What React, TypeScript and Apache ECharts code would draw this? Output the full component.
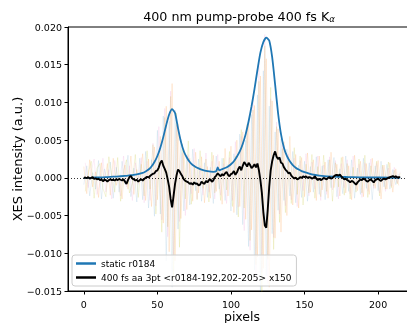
import React, { useEffect, useRef } from "react";
import * as echarts from "echarts";

// values in units of 1e-3 (a.u.)
const staticX = [0,4,8,12,16,20,24,28,32,36,40,42,44,46,48,50,52,54,56,58,60,62,64,66,68,70,72,74,76,78,80,84,88,90,91,92,94,96,98,100,102,104,106,108,110,112,114,116,118,120,122,124,126,128,130,132,134,136,138,140,142,144,146,148,150,155,160,170,180,190,200,215];
const staticY = [0,0,0.05,0.05,0.1,0.15,0.2,0.25,0.35,0.45,0.65,0.85,1.1,1.5,2.1,2.9,4.0,5.4,7.0,8.4,9.1,8.6,6.6,4.8,3.5,2.7,2.1,1.7,1.45,1.25,1.1,0.9,0.8,0.9,1.4,1.0,1.15,1.3,1.5,1.8,2.2,2.8,3.5,4.5,5.8,7.5,9.5,11.8,14.3,16.6,18.0,18.6,18.2,16.0,12.4,8.6,5.8,4.0,2.9,2.2,1.7,1.35,1.1,0.9,0.75,0.45,0.3,0.15,0.1,0.05,0.05,0.0];

// difference signal, pixel 0..215
const diffY = [
0.0,0.05,-0.05,0.1,-0.1,0.0,0.1,-0.15,-0.05,-0.2,
-0.1,-0.3,-0.2,-0.45,-0.25,-0.3,-0.5,-0.3,-0.2,-0.3,
-0.25,-0.35,-0.2,-0.3,-0.15,-0.25,-0.35,-0.2,-0.5,-0.8,
-0.3,0.1,0.25,-0.1,-0.2,-0.35,-0.25,-0.5,-0.3,-0.2,
-0.35,-0.15,0.0,0.15,0.05,0.25,0.4,0.55,0.6,0.9,
1.0,1.4,2.0,2.3,1.6,1.2,0.7,-0.2,-1.2,-2.8,
-3.9,-2.4,-0.8,0.3,1.1,0.9,0.5,0.2,-0.2,-0.4,
-0.5,-0.6,-0.8,-0.7,-0.9,-0.6,-0.8,-0.75,-1.0,-0.9,
-0.5,-0.7,-0.8,-0.4,-0.6,-0.3,-0.2,-0.5,-0.35,0.1,
0.3,0.6,0.4,0.2,0.5,0.3,0.6,0.8,0.4,0.2,
0.5,0.6,0.9,0.4,0.7,1.2,1.5,1.0,1.6,2.1,
1.8,1.5,2.0,1.7,1.3,1.5,1.8,1.4,1.9,1.0,
-0.3,-2.0,-4.5,-6.3,-6.6,-4.2,-1.2,1.0,2.2,3.0,
3.5,2.8,2.5,2.7,2.0,1.9,1.4,1.1,0.9,0.6,
0.7,0.3,0.1,-0.1,0.05,-0.2,-0.1,0.1,0.0,0.2,
0.1,0.2,0.0,0.1,0.05,-0.1,0.0,0.2,-0.1,-0.3,
-0.1,-0.3,-0.2,0.0,-0.1,-0.2,0.0,0.1,-0.1,0.0,
0.2,0.35,0.4,0.3,0.45,0.2,0.0,-0.2,-0.1,-0.3,
-0.4,-0.6,-0.4,-0.5,-0.7,-0.9,-0.6,-0.4,-0.2,-0.3,
-0.1,-0.2,-0.4,-0.5,-0.3,-0.2,-0.4,-0.6,-0.3,-0.2,
-0.1,-0.3,-0.4,-0.2,-0.1,-0.2,-0.1,0.0,0.1,0.15,
0.25,0.1,0.2,0.05,0.1,0.1
];

// individual noisy runs (even pixels / odd pixels)
const runA = [1.5,-2.1,2.4,-1.2,0.8,-2.6,2.0,-0.5,1.9,-2.3,2.6,-1.0,0.4,-2.8,1.7,-1.5,2.9,-2.2,1.1,-0.6,3.2,-3.0,2.5,-3.8,4.1,-2.9,5.5,-6.0,9.5,-9.8,12.5,-11.0,7.2,-5.4,3.8,-4.2,2.6,-3.1,3.4,-2.0,2.8,-3.3,1.5,-2.7,3.0,-1.8,2.2,-3.5,3.9,-2.4,4.2,-4.6,5.0,-3.8,6.1,-5.5,7.8,-6.9,9.6,-10.5,13.5,-12.0,15.8,-14.5,10.2,-8.0,6.5,-7.2,4.8,-5.0,5.5,-3.6,3.1,-4.0,2.7,-2.5,3.3,-1.9,2.4,-3.0,2.9,-1.6,2.1,-2.7,3.4,-1.3,1.8,-2.4,2.8,-2.0,1.6,-2.9,3.0,-1.7,2.2,-2.5,1.9,-2.2,2.6,-1.4,2.3,-2.8,1.7,-1.5,2.0,-1.9,1.2,-1.0];
const runB = [-1.8,0.6,2.2,-2.7,1.3,1.9,-1.4,-2.5,2.8,0.3,-1.9,2.7,-3.1,1.0,2.4,-2.0,-0.7,3.1,-2.6,1.8,-2.4,3.6,-1.5,4.4,-4.8,3.0,-7.2,8.0,-6.5,10.8,-13.5,8.6,-9.2,4.5,-2.8,4.9,-3.5,1.7,-2.9,3.6,-1.4,2.5,-3.2,3.4,-2.0,1.1,-3.0,2.6,-1.6,3.5,-3.8,2.9,-5.2,6.4,-4.0,7.1,-8.3,9.0,-11.5,12.8,-16.0,17.5,-10.8,12.0,-9.5,6.8,-5.9,3.9,-4.6,2.8,-3.4,4.0,-2.2,2.9,-3.6,1.8,-2.0,3.1,-2.7,1.5,-2.5,3.0,-1.8,2.4,-3.1,2.0,-1.2,2.7,-2.3,1.9,-2.8,1.4,-1.9,2.5,-2.0,3.0,-2.6,1.6,-1.1,2.2,-2.4,1.7,-1.5,2.1,-1.3,1.0,-0.8,0.6];
const runC = [-0.9,1.6,-2.4,0.7,-1.5,2.3,-2.8,1.2,-0.4,2.1,-2.7,1.4,-1.9,2.2,-0.8,3.0,-2.5,1.3,-3.2,2.6,-2.9,3.5,-4.0,2.4,-5.1,6.3,-4.8,8.2,-11.0,7.5,-14.5,9.0,-6.8,5.1,-4.4,2.9,-3.6,3.8,-1.7,2.5,-3.1,2.0,-2.6,1.4,-3.4,2.9,-1.5,2.6,-3.0,1.8,-4.4,3.2,-4.9,5.8,-6.2,5.0,-9.1,8.4,-12.2,11.0,-15.0,14.2,-13.0,9.5,-7.4,6.1,-4.3,5.2,-3.0,3.8,-2.4,3.5,-3.3,1.7,-2.6,2.2,-3.1,1.5,-1.9,2.8,-2.2,1.6,-2.9,2.4,-1.3,2.7,-2.5,1.2,-2.1,2.9,-1.8,2.4,-2.7,1.3,-2.2,2.6,-1.4,2.0,-2.9,1.6,-1.7,2.2,-1.2,1.8,-1.5,1.1,-0.9,0.5];
const runD = [2.0,-1.3,0.9,2.5,-2.2,-0.6,2.6,-1.9,1.1,-2.8,2.3,0.5,-2.4,2.9,-1.2,1.6,-3.0,2.0,-0.9,2.7,-3.3,2.2,-3.0,4.6,-3.7,6.8,-5.6,9.2,-7.8,11.5,-10.2,7.0,-5.8,3.3,-5.0,3.1,-2.1,3.9,-2.8,1.6,-2.3,3.3,-1.9,2.2,-2.8,3.1,-2.3,1.9,-3.4,2.7,-3.0,4.8,-3.9,5.5,-7.0,6.3,-9.6,10.8,-13.8,15.5,-12.5,19.0,-14.0,10.5,-7.9,7.4,-4.8,4.4,-3.7,3.2,-2.9,2.6,-3.8,2.3,-1.7,3.2,-2.4,2.1,-1.5,2.9,-3.0,1.7,-2.2,2.8,-1.6,2.3,-2.8,1.9,-1.3,2.4,-2.1,2.9,-1.5,1.8,-2.6,2.0,-1.8,2.5,-1.4,1.9,-2.0,1.5,-1.8,1.3,-1.1,1.4,-0.7,0.8];

const xTicks = [0, 50, 100, 150, 200];
const seriesNames = ["static r0184", "400 fs aa 3pt <r0184-192,202-205> x150"];

const FONT = "DejaVu Sans";

export default function App() {
  const ref = useRef<HTMLDivElement>(null);
  useEffect(() => {
    if (!ref.current) return;
    const chart = echarts.init(ref.current, null, { renderer: "svg" });
    const runs = [
      { d: runA, off: 0, c: "rgba(255,127,14,0.14)" },
      { d: runB, off: 1, c: "rgba(188,189,34,0.17)" },
      { d: runC, off: 0, c: "rgba(31,119,180,0.10)" },
      { d: runD, off: 1, c: "rgba(227,119,194,0.12)" },
    ];
    const noiseSeries = runs.map((r, k) => ({
      type: "line",
      name: "run" + k,
      data: r.d.map((v, i) => [i * 2 + r.off, v]),
      showSymbol: false,
      silent: true,
      lineStyle: { color: r.c, width: 1 },
      z: 1,
    }));
    chart.setOption({
      animation: false,
      title: {
        text: "400 nm pump-probe 400 fs K{sub|α}",
        left: 234,
        textAlign: "center",
        top: 4,
        textStyle: {
          fontFamily: FONT,
          fontSize: 12.7,
          fontWeight: "normal",
          color: "#000",
          rich: {
            sub: { fontFamily: FONT, fontSize: 8.5, fontStyle: "italic", color: "#000", padding: [5, 0, 0, 0] },
          },
        },
      },
      grid: { left: 68, top: 27, right: 0, bottom: 32, outerBoundsMode: "none", containLabel: false, show: true, borderColor: "#000", borderWidth: 1, backgroundColor: "transparent" },
      legend: {
        data: seriesNames,
        orient: "vertical",
        left: 72,
        top: 255,
        padding: [4, 5, 4, 4],
        itemGap: 5,
        itemWidth: 20,
        itemHeight: 2.5,
        icon: "rect",
        backgroundColor: "rgba(255,255,255,0.8)",
        borderColor: "#ccc",
        borderWidth: 1,
        borderRadius: 3,
        textStyle: { fontFamily: FONT, fontSize: 9, color: "#000" },
        selectedMode: false,
      },
      xAxis: {
        type: "value",
        min: -10.75,
        max: 225.75,
        name: "pixels",
        nameLocation: "middle",
        nameGap: 25,
        nameMoveOverlap: false,
        nameTextStyle: { fontFamily: FONT, fontSize: 12.5, color: "#000", verticalAlign: "middle", lineHeight: 13 },
        axisLine: { show: true, onZero: false, lineStyle: { color: "#000", width: 1 } },
        axisTick: { show: true, inside: false, length: 3.5, customValues: xTicks, lineStyle: { color: "#000" } },
        axisLabel: { customValues: xTicks, fontFamily: FONT, fontSize: 9.5, color: "#000", margin: 8 },
        splitLine: { show: false },
      },
      yAxis: {
        type: "value",
        min: -15,
        max: 20,
        interval: 5,
        name: "XES intensity (a.u.)",
        nameLocation: "middle",
        nameGap: 44,
        nameMoveOverlap: false,
        nameTextStyle: { fontFamily: FONT, fontSize: 13, color: "#000" },
        axisLine: { show: true, onZero: false, lineStyle: { color: "#000", width: 1 } },
        axisTick: { show: true, inside: false, length: 3.5, lineStyle: { color: "#000" } },
        axisLabel: {
          fontFamily: FONT,
          fontSize: 9.5,
          color: "#000",
          margin: 6,
          formatter: (v: number) => {
            const s = (Math.abs(v) / 1000).toFixed(3);
            return v < 0 ? "\u2212" + s : s;
          },
        },
        splitLine: { show: false },
      },
      series: [
        ...noiseSeries,
        {
          type: "line",
          name: seriesNames[0],
          data: staticX.map((x, i) => [x, staticY[i]]),
          showSymbol: false,
          smooth: 0.2,
          lineStyle: { color: "#1f77b4", width: 1.8 },
          itemStyle: { color: "#1f77b4" },
          z: 3,
        },
        {
          type: "line",
          name: seriesNames[1],
          data: diffY.map((v, i) => [i, v]),
          showSymbol: false,
          lineStyle: { color: "#000", width: 1.9 },
          itemStyle: { color: "#000" },
          z: 4,
          markLine: {
            silent: true,
            symbol: ["none", "none"],
            label: { show: false },
            lineStyle: { color: "#000", type: [1, 2], width: 0.8 },
            data: [{ yAxis: 0 }],
          },
        },
      ],
    });
    return () => chart.dispose();
  }, []);
  return <div ref={ref} style={{ position: "fixed", left: 0, top: 0, width: 416, height: 323 }} />;
}
